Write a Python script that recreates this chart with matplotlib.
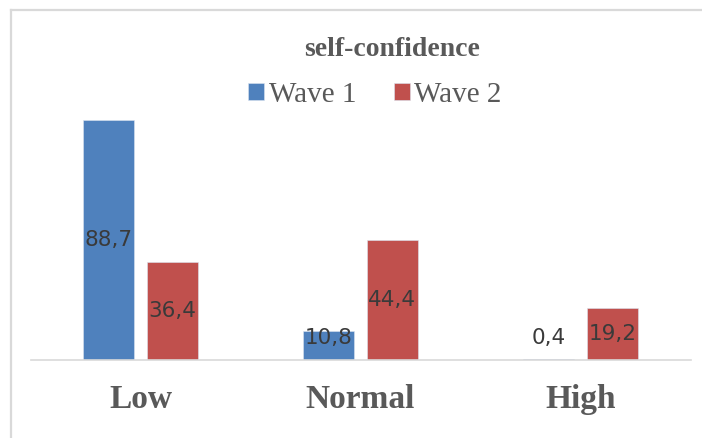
import matplotlib
matplotlib.use("Agg")
import matplotlib.pyplot as plt
from matplotlib.lines import Line2D
import numpy as np

# Data (percentages)
categories = ["Low", "Normal", "High"]
series_names = ["Wave 1", "Wave 2"]
wave1 = [88.7, 10.8, 0.4]
wave2 = [36.4, 44.4, 19.2]
colors = ["#4f81bd", "#c0504d"]

W, H = 702, 438
fig = plt.figure(figsize=(W / 100, H / 100), dpi=100)

# plot area in pixels: x 30.5..690.5, baseline y=360, top y~89.4
ax = fig.add_axes([30.5 / W, (H - 360) / H, 660 / W, 270.6 / H])
x = np.arange(len(categories))
width = 0.232
offset = 0.145

text_gray = "#595959"
label_gray = "#3a3a3a"

for vals, off, col, name in [(wave1, -offset, colors[0], series_names[0]),
                             (wave2, offset, colors[1], series_names[1])]:
    bars = ax.bar(x + off, vals, width, color=col, label=name,
                  edgecolor="#dbe4f0", linewidth=0.4)
    for b, v in zip(bars, vals):
        ypos = max(v / 2, 8.1)
        ax.text(b.get_x() + b.get_width() / 2, ypos, f"{v:.1f}".replace(".", ","),
                ha="center", va="center", fontsize=15.5, color=label_gray,
                family="DejaVu Sans")

ax.set_xlim(-0.5, 2.5)
ax.set_ylim(0, 100)
ax.set_yticks([])
ax.set_xticks(x)
ax.set_xticklabels(categories, family="Liberation Serif", fontweight="bold",
                   fontsize=24, color=text_gray)
ax.tick_params(axis="x", length=0, pad=17)
for side in ("top", "right", "left"):
    ax.spines[side].set_visible(False)
ax.spines["bottom"].set_color("#d9d9d9")
ax.spines["bottom"].set_linewidth(1.2)

# title and legend
fig.text(392 / W, 1 - 50 / H, "self-confidence", ha="center", va="center",
         family="Liberation Serif", fontweight="bold", fontsize=20, color=text_gray)
leg = fig.legend(loc="center", bbox_to_anchor=(375 / W, 1 - 95 / H), ncol=2,
                 frameon=False, handlelength=0.55, handleheight=0.55,
                 handletextpad=0.15, columnspacing=1.3,
                 prop={"family": "Liberation Serif", "size": 21})
for t in leg.get_texts():
    t.set_color(text_gray)

# chart border: only the top and left edges fall inside the crop
border_x, border_y = 11 / W, 1 - 10 / H
fig.add_artist(Line2D([border_x, 1], [border_y, border_y], transform=fig.transFigure,
                      color="#d9d9d9", linewidth=1.6))
fig.add_artist(Line2D([border_x, border_x], [0, border_y], transform=fig.transFigure,
                      color="#d9d9d9", linewidth=1.6))

fig.savefig("out.png", dpi=100)
